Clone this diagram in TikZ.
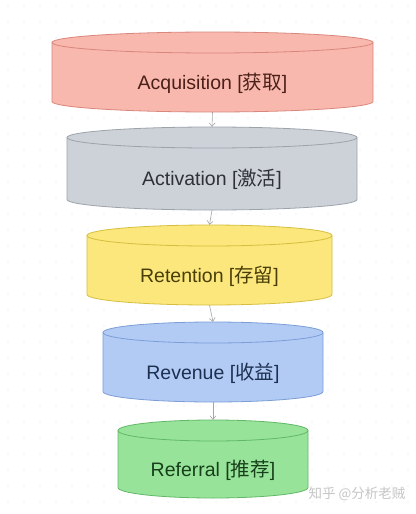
\documentclass[tikz,border=0pt]{standalone}
\usepackage{fontspec}
\setmainfont{Liberation Sans}
\newfontfamily\cjk{Noto Sans CJK SC}
\usetikzlibrary{arrows.meta}

\definecolor{acqfill}{HTML}{F9B8AE}\definecolor{acqdraw}{HTML}{D9877C}\definecolor{acqtext}{HTML}{4A2018}
\definecolor{actfill}{HTML}{CDD2D8}\definecolor{actdraw}{HTML}{9CA3AB}\definecolor{acttext}{HTML}{2E3136}
\definecolor{retfill}{HTML}{FBE77C}\definecolor{retdraw}{HTML}{D6BF3E}\definecolor{rettext}{HTML}{4A3E08}
\definecolor{revfill}{HTML}{B1CBF5}\definecolor{revdraw}{HTML}{7C9DD6}\definecolor{revtext}{HTML}{1E2F4F}
\definecolor{reffill}{HTML}{98E39A}\definecolor{refdraw}{HTML}{62B866}\definecolor{reftext}{HTML}{173F1A}

\begin{document}
\begin{tikzpicture}[x=1pt,y=-1pt,
    stage/.style={rectangle, inner sep=0pt, text height=34pt, text depth=0pt,
      font=\fontsize{19.5}{22}\selectfont},
    flow/.style={draw=gray!70, line width=0.6pt, -{Straight Barb[length=3.5pt,width=6pt]}}]
  \useasboundingbox (0,0) rectangle (415,514);
  \fill[white] (0,0) rectangle (415,514);

  % Dots
  \foreach \i in {0,...,25}
    \foreach \j in {0,...,32}
      \fill[gray!20] (8+16*\i,6+16*\j) circle (0.7);

  % Stages: name/x/top/bottom/width/label
  \def\ry{10.5}
  \foreach \nm/\cx/\yt/\yb/\w/\txt in {
      acq/212.5/32/112/321/Acquisition [{\cjk 获取}],
      act/212/127/210/290/Activation [{\cjk 激活}],
      ret/209.5/225/305/245/Retention [{\cjk 存留}],
      rev/213/322/402/220/Revenue [{\cjk 收益}],
      ref/213/420/498/190/Referral [{\cjk 推荐}]} {
    \pgfmathsetmacro\a{\w/2}
    \draw[draw=\nm draw, fill=\nm fill, line width=0.8pt]
      (\cx-\a,\yt+\ry) -- (\cx-\a,\yb-\ry)
      arc[start angle=180, end angle=0, x radius=\a, y radius=\ry]
      -- (\cx+\a,\yt+\ry)
      arc[start angle=0, end angle=-180, x radius=\a, y radius=\ry] -- cycle;
    \draw[draw=\nm draw, line width=0.8pt] (\cx-\a,\yt+\ry)
      arc[start angle=180, end angle=0, x radius=\a, y radius=\ry];
    \node[stage, text=\nm text, minimum width=\w, minimum height=\yb-\yt] (\nm) at (\cx,{(\yt+\yb)/2}) {\txt};
  }

  \draw[flow] (acq.south) -- (act.north);
  \draw[flow] (act.south) -- (ret.north);
  \draw[flow] (ret.south) -- (rev.north);
  \draw[flow] (rev.south) -- (ref.north);

  \node[text=gray!45, font=\cjk\fontsize{13.5}{15}\selectfont, anchor=west] (mark) at (305,494) {知乎 @分析老贼};
\end{tikzpicture}
\end{document}
